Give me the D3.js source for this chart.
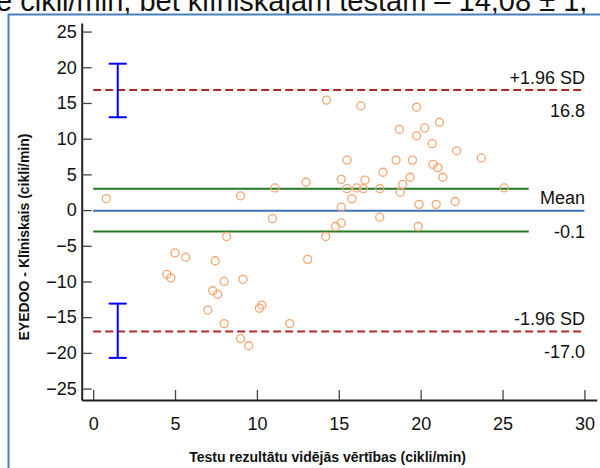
<!DOCTYPE html>
<html>
<head>
<meta charset="utf-8">
<script src="https://cdn.jsdelivr.net/npm/d3@7"></script>
<style>
  body { margin: 0; background: #fff; }
  svg { display: block; font-family: "Liberation Sans", Arial, sans-serif; }
</style>
</head>
<body>
<div id="chart"></div>
<script>
// Bland-Altman: mean of the two tests vs difference (EYEDOO - clinical)
var meanVals = [0.8, 4.5, 4.75, 5.0, 5.65, 7.0, 7.3, 7.45, 7.6, 8.0,
    8.0, 8.15, 9.0, 9.0, 9.15, 9.5, 10.15, 10.3, 10.95, 11.1,
    12.0, 13.0, 13.1, 14.2, 14.25, 14.8, 15.15, 15.15, 15.15, 15.5,
    15.5, 15.8, 16.1, 16.35, 16.5, 16.6, 17.5, 17.5, 17.7, 18.5,
    18.7, 18.75, 18.9, 19.35, 19.5, 19.75, 19.75, 19.85, 19.9, 20.25,
    20.7, 20.75, 20.95, 21.05, 21.15, 21.35, 22.1, 22.2, 23.7, 25.1];
var diffVals = [1.6, -9.0, -9.5, -6.0, -6.6, -14.0, -11.3, -7.1, -11.8, -10.0,
    -15.9, -3.7, 2.0, -18.0, -9.7, -19.0, -13.75, -13.3, -1.2, 3.1,
    -15.9, 3.9, -6.9, -3.7, 15.4, -2.3, -1.8, 0.4, 4.3, 3.0,
    7.0, 1.6, 3.1, 14.6, 3.0, 4.2, 3.0, -1.0, 5.3, 7.0,
    11.3, 2.5, 3.6, 4.6, 7.0, 14.4, 10.4, -2.3, 0.8, 11.5,
    9.3, 6.4, 0.8, 5.95, 12.3, 4.6, 1.2, 8.3, 7.3, 3.1];

var meanDiff = -0.1;
var upperLoA = 16.8;
var lowerLoA = -17.0;
var meanCI = [-3.0, 3.0];
var upperLoACI = [13.0, 20.5];
var lowerLoACI = [-20.7, -13.1];
var ciX = 1.5;
var ciLineEnd = 26.6;

var xTicks = [0, 5, 10, 15, 20, 25, 30];
var yTicks = [-25, -20, -15, -10, -5, 0, 5, 10, 15, 20, 25];

var width = 600, height = 468;

var svg = d3.select("#chart").append("svg")
    .attr("width", width)
    .attr("height", height);

// document text above the picture, cut by the screenshot edge
svg.append("text")
    .attr("x", -4)
    .attr("y", 10.5)
    .attr("font-size", 29)
    .attr("fill", "#111")
    .text("e cikli/min, bet klīniskajām testam – 14,08 ± 1,");

// blue frame around the picture
svg.append("rect")
    .attr("x", 8.5)
    .attr("y", 14.5)
    .attr("width", 600)
    .attr("height", 470)
    .attr("fill", "#fff")
    .attr("stroke", "#4a7ebb")
    .attr("stroke-width", 2);

var x = d3.scaleLinear()
    .domain([-0.7, 30.75])
    .range([81.7, 596.7]);
var y = d3.scaleLinear()
    .domain([-26.6, 26.2])
    .range([400, 23]);

var plot = svg.append("g");

// reference lines
plot.append("line")
    .attr("x1", x(0)).attr("x2", x(30))
    .attr("y1", y(upperLoA)).attr("y2", y(upperLoA))
    .attr("stroke", "#b02a2a").attr("stroke-width", 2)
    .attr("stroke-dasharray", "8,4");
plot.append("line")
    .attr("x1", x(0)).attr("x2", x(30))
    .attr("y1", y(lowerLoA)).attr("y2", y(lowerLoA))
    .attr("stroke", "#b02a2a").attr("stroke-width", 2)
    .attr("stroke-dasharray", "8,4");

plot.selectAll(".ci-line")
    .data(meanCI)
    .enter().append("line")
    .attr("class", "ci-line")
    .attr("x1", x(0)).attr("x2", x(ciLineEnd))
    .attr("y1", function (d) { return y(d); })
    .attr("y2", function (d) { return y(d); })
    .attr("stroke", "#237a23").attr("stroke-width", 2);

plot.append("line")
    .attr("x1", x(0)).attr("x2", x(30))
    .attr("y1", y(meanDiff)).attr("y2", y(meanDiff))
    .attr("stroke", "#3c72b4").attr("stroke-width", 2);

// confidence intervals of the limits
[upperLoACI, lowerLoACI].forEach(function (ci) {
    var g = plot.append("g").attr("stroke", "#0000ff").attr("stroke-width", 2);
    g.append("line")
        .attr("x1", x(ciX)).attr("x2", x(ciX))
        .attr("y1", y(ci[0])).attr("y2", y(ci[1]));
    ci.forEach(function (v) {
        g.append("line")
            .attr("x1", x(ciX) - 9).attr("x2", x(ciX) + 9)
            .attr("y1", y(v)).attr("y2", y(v));
    });
});

// points
plot.selectAll(".dot")
    .data(meanVals)
    .enter().append("circle")
    .attr("class", "dot")
    .attr("cx", function (d) { return x(d); })
    .attr("cy", function (d, i) { return y(diffVals[i]); })
    .attr("r", 4)
    .attr("fill", "none")
    .attr("stroke", "#f5a672")
    .attr("stroke-width", 1.3);

// line labels
var labels = [
    {text: "+1.96 SD", v: upperLoA, dy: -6.5},
    {text: upperLoA.toFixed(1), v: upperLoA, dy: 27},
    {text: "Mean", v: meanDiff, dy: -6.5},
    {text: meanDiff.toFixed(1), v: meanDiff, dy: 27},
    {text: "-1.96 SD", v: lowerLoA, dy: -6.5},
    {text: lowerLoA.toFixed(1), v: lowerLoA, dy: 27}
];
plot.selectAll(".lbl")
    .data(labels)
    .enter().append("text")
    .attr("class", "lbl")
    .attr("x", 585)
    .attr("y", function (d) { return y(d.v) + d.dy; })
    .attr("text-anchor", "end")
    .attr("font-size", 18)
    .attr("fill", "#111")
    .text(function (d) { return d.text; });

// axes
var xAxis = svg.append("g")
    .attr("transform", "translate(0,400)")
    .call(d3.axisBottom(x).tickValues(xTicks).tickSizeInner(-10).tickSizeOuter(0).tickPadding(17));
var yAxis = svg.append("g")
    .attr("transform", "translate(81.7,0)")
    .call(d3.axisLeft(y).tickValues(yTicks).tickSizeInner(-10).tickSizeOuter(0).tickPadding(5));

[xAxis, yAxis].forEach(function (a) {
    a.select(".domain").attr("stroke", "#222").attr("stroke-width", 2);
    a.selectAll(".tick line").attr("stroke", "#444").attr("stroke-width", 1.3);
    a.selectAll(".tick text")
        .attr("font-size", 18)
        .attr("font-family", "Liberation Sans, Arial, sans-serif")
        .attr("fill", "#111");
});

svg.append("text")
    .attr("x", 327.5)
    .attr("y", 462)
    .attr("text-anchor", "middle")
    .attr("font-size", 14)
    .attr("font-weight", "bold")
    .attr("fill", "#111")
    .text("Testu rezultātu vidējās vērtības (cikli/min)");

svg.append("text")
    .attr("transform", "translate(28.5,237) rotate(-90)")
    .attr("text-anchor", "middle")
    .attr("font-size", 14)
    .attr("font-weight", "bold")
    .attr("fill", "#111")
    .text("EYEDOO - Klīniskais (cikli/min)");
</script>
</body>
</html>
